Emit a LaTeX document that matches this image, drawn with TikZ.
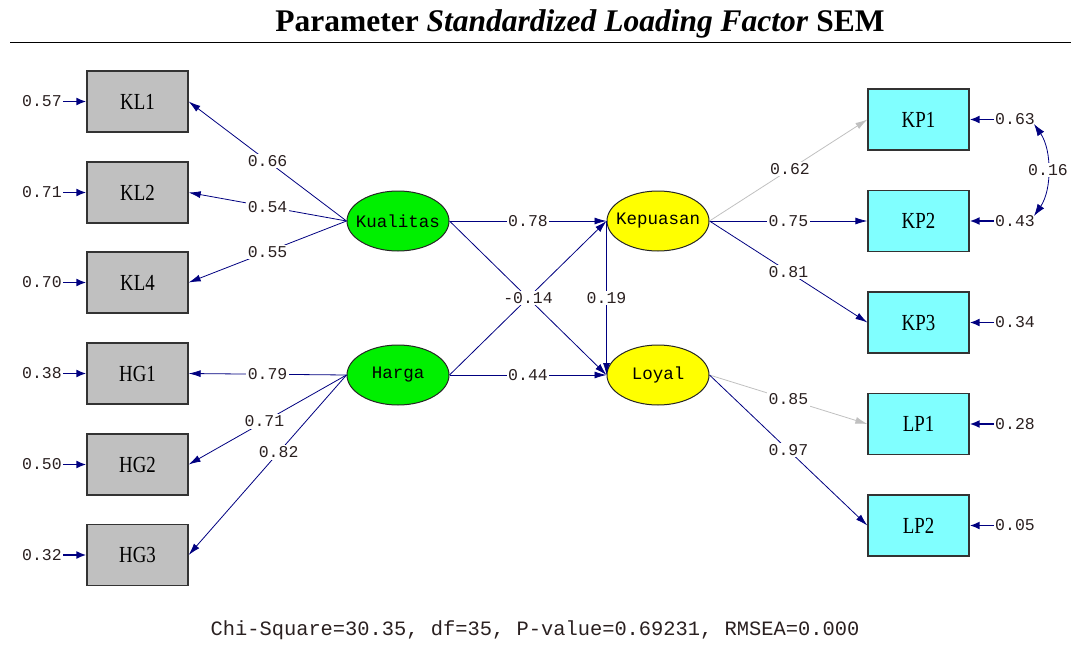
\documentclass[tikz,border=0pt]{standalone}
\usepackage{fontspec}
\setmainfont{Liberation Serif}
\setmonofont{Liberation Mono}
\newfontfamily\boxfont[FakeStretch=0.82]{Liberation Serif}
\usetikzlibrary{arrows.meta,shapes.geometric}
\definecolor{navy}{HTML}{000080}
\definecolor{lgray}{HTML}{C0C0C0}
\definecolor{boxgray}{HTML}{C0C0C0}
\definecolor{cyanbox}{HTML}{80FFFF}
\definecolor{greenell}{HTML}{00F000}
\definecolor{yellowell}{HTML}{FFFF00}
\definecolor{numtxt}{HTML}{2A2020}
\begin{document}
\begin{tikzpicture}[x=1pt,y=-1pt,
  obs/.style={draw=black!80,line width=1.3pt,minimum width=101pt,minimum height=61pt,inner sep=0pt,font=\boxfont\fontsize{23}{24}\selectfont},
  grayobs/.style={obs,fill=boxgray},
  cyanobs/.style={obs,fill=cyanbox},
  lat/.style={ellipse,draw=black!85,line width=1pt,minimum width=102pt,minimum height=60pt,inner xsep=-14pt,inner ysep=0pt,font=\ttfamily\fontsize{17.5}{18}\selectfont},
  exo/.style={lat,fill=greenell},
  endo/.style={lat,fill=yellowell},
  pth/.style={draw=navy,line width=0.8pt,-{Latex[length=12pt,width=7pt]}},
  gpth/.style={draw=lgray,line width=0.8pt,-{Latex[length=12pt,width=7pt]}},
  lbl/.style={fill=white,inner sep=1.5pt,text=numtxt,font=\ttfamily\fontsize{16.5}{18}\selectfont},
  errl/.style={inner sep=1pt,text=numtxt,font=\ttfamily\fontsize{16.5}{18}\selectfont},
  errarr/.style={draw=navy,line width=1.8pt,-{Latex[length=10pt,width=8pt]}},
  corr/.style={draw=navy,line width=0.8pt,{Latex[length=12pt,width=8pt]}-{Latex[length=12pt,width=8pt]}}
]
\useasboundingbox (0,0) rectangle (1071,650);
% title
\node (title) at (580,24) {\fontsize{31.5}{34}\selectfont\bfseries Parameter \textit{Standardized Loading Factor} SEM};
\coordinate (hl1) at (10,42);
\coordinate (hl2) at (1071,42);
\draw[line width=0.9pt] (hl1) -- (hl2);

% left boxes
\node[grayobs] (KL1) at (137.5,101.5) {KL1};
\node[grayobs] (KL2) at (137.5,192.5) {KL2};
\node[grayobs] (KL4) at (137.5,282.5) {KL4};
\node[grayobs] (HG1) at (137.5,373.5) {HG1};
\node[grayobs] (HG2) at (137.5,464.5) {HG2};
\node[grayobs] (HG3) at (137.5,555) {HG3};

% right boxes
\node[cyanobs] (KP1) at (918.5,119.5) {KP1};
\node[cyanobs] (KP2) at (918.5,221) {KP2};
\node[cyanobs] (KP3) at (918.5,322.5) {KP3};
\node[cyanobs] (LP1) at (918.5,424) {LP1};
\node[cyanobs] (LP2) at (918.5,525.5) {LP2};

% latent
\node[exo] (Ku) at (398,221) {Kualitas};
\node[exo] (Ha) at (398,375) {Harga};
\node[endo] (Ke) at (658,221) {Kepuasan};
\node[endo] (Lo) at (658,375) {Loyal};

% error labels left
\node[errl,anchor=east] (eKL1) at (63,101.5) {0.57};
\node[errl,anchor=east] (eKL2) at (63,192.5) {0.71};
\node[errl,anchor=east] (eKL4) at (63,282.5) {0.70};
\node[errl,anchor=east] (eHG1) at (63,373.5) {0.38};
\node[errl,anchor=east] (eHG2) at (63,464.5) {0.50};
\node[errl,anchor=east] (eHG3) at (63,555) {0.32};
\foreach \n in {KL1,KL2,KL4,HG1,HG2,HG3}{
  \draw[errarr] (e\n.east) -- (\n.west);
}
% error labels right
\node[errl,anchor=west] (eKP1) at (994,119.5) {0.63};
\node[errl,anchor=west] (eKP2) at (994,221) {0.43};
\node[errl,anchor=west] (eKP3) at (994,322.5) {0.34};
\node[errl,anchor=west] (eLP1) at (994,424) {0.28};
\node[errl,anchor=west] (eLP2) at (994,525.5) {0.05};
\foreach \n in {KP1,KP2,KP3,LP1,LP2}{
  \draw[errarr] (e\n.west) -- (\n.east);
}
% correlated errors
\coordinate (c1) at (1034,124);
\coordinate (c2) at (1034,216);
\draw[corr] (c1) .. controls (1052,150) and (1052,190) .. (c2);
\node[lbl] (r16) at (1048,170) {0.16};

% loadings left
\draw[pth] (Ku.west) -- node[lbl] {0.66} (KL1.east);
\draw[pth] (Ku.west) -- node[lbl] {0.54} (KL2.east);
\draw[pth] (Ku.west) -- node[lbl] {0.55} (KL4.east);
\draw[pth] (Ha.west) -- node[lbl] {0.79} (HG1.east);
\draw[pth] (Ha.west) -- node[lbl,pos=0.52] {0.71} (HG2.east);
\draw[pth] (Ha.west) -- node[lbl,pos=0.43] {0.82} (HG3.east);

% structural
\draw[pth] (Ku.east) -- node[lbl] {0.78} (Ke.west);
\draw[pth] (Ha.east) -- node[lbl] {0.44} (Lo.west);
\draw[pth] (Ku.east) -- (Lo.west);
\draw[pth] (Ha.east) -- node[lbl] {-0.14} (Ke.west);
\draw[pth] (Ke.west) -- node[lbl] {0.19} (Lo.west);

% loadings right
\draw[gpth] (Ke.east) -- node[lbl,pos=0.51] {0.62} (KP1.west);
\draw[pth] (Ke.east) -- node[lbl] {0.75} (KP2.west);
\draw[pth] (Ke.east) -- node[lbl] {0.81} (KP3.west);
\draw[gpth] (Lo.east) -- node[lbl] {0.85} (LP1.west);
\draw[pth] (Lo.east) -- node[lbl] {0.97} (LP2.west);

% fit
\node[font=\ttfamily\fontsize{20.4}{22}\selectfont,text=numtxt] (fit) at (535,630) {Chi-Square=30.35, df=35, P-value=0.69231, RMSEA=0.000};
\end{tikzpicture}
\end{document}
